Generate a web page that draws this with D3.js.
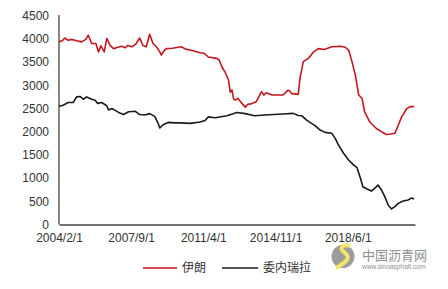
<!DOCTYPE html>
<html>
<head>
    <meta charset="utf-8">
    <title>伊朗 委内瑞拉</title>
    <style>
        body {
            margin: 0;
            background: #fff;
            font-family: "Liberation Sans", Arial, "Noto Sans CJK SC", sans-serif;
        }

        .axis text {
            fill: #333;
            font-size: 12px;
        }

        .axis .domain {
            stroke: #444;
            stroke-width: 1.3;
        }

        .line {
            fill: none;
            stroke-width: 1.6;
            stroke-linejoin: round;
        }

        .legend text {
            font-family: "Noto Sans CJK SC", sans-serif;
            font-size: 12px;
            fill: #333;
        }
    </style>
    <script src="https://d3js.org/d3.v7.min.js"></script>
</head>

<body>

<script type="text/javascript">
    var seriesNames = ["伊朗", "委内瑞拉"];
    var seriesColors = ["#c5161e", "#1a1a1a"];

    var yTicks = [0, 500, 1000, 1500, 2000, 2500, 3000, 3500, 4000, 4500];
    var xTickDates = ["2004-02-01", "2007-09-01", "2011-04-01", "2014-11-01", "2018-06-01"];
    var xTickLabels = ["2004/2/1", "2007/9/1", "2011/4/1", "2014/11/1", "2018/6/1"];

    // 伊朗
    var iranDates = [
        "2004-02-01", "2004-04-01", "2004-05-16", "2004-07-16", "2004-09-16", "2004-12-16",
        "2005-03-16", "2005-06-01", "2005-07-16", "2005-09-16", "2005-12-01", "2006-01-16",
        "2006-03-01", "2006-05-01", "2006-06-16", "2006-08-16", "2006-10-16", "2007-01-01",
        "2007-03-16", "2007-05-16", "2007-07-01", "2007-09-16", "2007-12-01", "2008-02-01",
        "2008-04-01", "2008-06-01", "2008-08-01", "2008-10-01", "2008-12-01", "2009-02-01",
        "2009-03-01", "2009-04-16", "2009-06-01", "2009-09-16", "2010-03-01", "2010-05-16",
        "2010-08-01", "2010-11-16", "2011-02-01", "2011-04-16", "2011-07-01", "2011-12-01",
        "2012-01-16", "2012-03-01", "2012-05-01", "2012-07-01", "2012-08-01", "2012-09-01",
        "2012-10-01", "2012-11-01", "2012-12-16", "2013-03-01", "2013-05-01", "2013-06-16",
        "2013-08-16", "2013-11-16", "2014-02-16", "2014-04-01", "2014-05-16", "2014-06-16",
        "2014-09-01", "2014-12-16", "2015-03-16", "2015-06-16", "2015-07-16", "2015-08-16",
        "2015-11-01", "2015-12-16", "2016-01-16", "2016-03-16", "2016-06-16", "2016-09-16",
        "2016-12-16", "2017-04-01", "2017-08-16", "2018-01-16", "2018-04-16", "2018-06-16",
        "2018-08-16", "2018-10-16", "2018-12-16", "2019-02-16", "2019-04-01", "2019-07-01",
        "2019-11-01", "2020-02-01", "2020-05-01", "2020-07-16", "2020-10-01", "2020-12-01",
        "2021-02-01", "2021-05-01", "2021-07-01", "2021-09-16"
    ];
    var iranValues = [
        3936, 3960, 4020, 3970, 3990, 3960,
        3936, 3990, 4080, 3900, 3900, 3720,
        3850, 3720, 4010, 3860, 3790, 3820,
        3840, 3810, 3860, 3830, 3900, 4020,
        3860, 3830, 4100, 3900, 3830, 3720,
        3650, 3740, 3790, 3800, 3830, 3780,
        3760, 3730, 3700, 3690, 3610, 3580,
        3540, 3400, 3280, 3110, 2850, 2900,
        2700, 2680, 2720, 2610, 2530, 2590,
        2600, 2650, 2860, 2790, 2840, 2825,
        2790, 2790, 2790, 2895, 2880, 2820,
        2810, 2805, 3150, 3510, 3580, 3720,
        3790, 3770, 3830, 3840, 3820, 3760,
        3510, 3220, 2790, 2715, 2430, 2215,
        2070, 2000, 1940, 1950, 1965, 2140,
        2320, 2490, 2540, 2540
    ];

    // 委内瑞拉
    var venezuelaDates = [
        "2004-02-01", "2004-04-16", "2004-07-16", "2004-10-16", "2004-12-16", "2005-02-16",
        "2005-04-16", "2005-06-16", "2005-09-16", "2005-11-16", "2006-01-01", "2006-03-16",
        "2006-06-16", "2006-07-16", "2006-09-16", "2006-11-16", "2007-01-16", "2007-04-16",
        "2007-07-16", "2007-11-16", "2008-02-01", "2008-05-01", "2008-08-01", "2008-11-01",
        "2009-01-01", "2009-02-01", "2009-04-01", "2009-07-01", "2009-11-01", "2010-02-01",
        "2010-08-01", "2011-02-01", "2011-05-01", "2011-07-01", "2011-11-01", "2012-06-01",
        "2012-12-01", "2013-05-01", "2013-10-16", "2014-04-16", "2015-03-16", "2015-09-16",
        "2015-12-16", "2016-02-16", "2016-05-16", "2016-07-16", "2016-10-16", "2017-01-16",
        "2017-04-16", "2017-08-16", "2017-10-16", "2017-12-16", "2018-03-16", "2018-06-16",
        "2018-09-16", "2018-11-16", "2019-01-16", "2019-03-01", "2019-05-16", "2019-08-01",
        "2019-10-01", "2019-12-01", "2020-02-01", "2020-04-01", "2020-06-01", "2020-08-01",
        "2020-10-01", "2020-12-01", "2021-03-01", "2021-06-01", "2021-08-01", "2021-09-16"
    ];
    var venezuelaValues = [
        2550, 2570, 2630, 2630, 2750, 2760,
        2700, 2750, 2700, 2680, 2610, 2630,
        2560, 2470, 2500, 2460, 2415, 2370,
        2430, 2440, 2370, 2360, 2390, 2330,
        2180, 2080, 2150, 2200, 2190, 2190,
        2180, 2210, 2240, 2320, 2300, 2345,
        2415, 2390, 2345, 2360, 2380, 2395,
        2350, 2345, 2250, 2200, 2130, 2035,
        1985, 1965, 1855, 1710, 1535, 1390,
        1280, 1225, 995, 815, 765, 720,
        780, 850, 745, 600, 420, 335,
        385, 455, 505, 530, 570, 550
    ];

    var width = 448, height = 289;
    var margins = {top: 15, left: 59, right: 33, bottom: 64.5};

    var parse = d3.timeParse("%Y-%m-%d");

    var series = [
        {name: seriesNames[0], color: seriesColors[0],
            points: iranDates.map(function (d, i) { return {date: parse(d), value: iranValues[i]}; })},
        {name: seriesNames[1], color: seriesColors[1],
            points: venezuelaDates.map(function (d, i) { return {date: parse(d), value: venezuelaValues[i]}; })}
    ];

    var x = d3.scaleTime()
            .domain([parse("2004-02-01"), parse("2021-10-01")])
            .range([margins.left, width - margins.right]);

    var y = d3.scaleLinear()
            .domain([0, 4500])
            .range([height - margins.bottom, margins.top + 0.7]);

    var svg = d3.select("body").append("svg")
            .attr("width", width)
            .attr("height", height);

    // y axis
    svg.append("g")
            .attr("class", "axis")
            .attr("transform", "translate(" + margins.left + ",0)")
            .call(d3.axisLeft(y)
                    .tickValues(yTicks)
                    .tickFormat(d3.format("d"))
                    .tickSize(0)
                    .tickPadding(10))
            .call(function (g) {
                g.select(".domain").attr("d", "M0," + y(0) + "V" + margins.top);
            });

    // x axis
    svg.append("g")
            .attr("class", "axis")
            .attr("transform", "translate(0," + y(0) + ")")
            .call(d3.axisBottom(x)
                    .tickValues(xTickDates.map(parse))
                    .tickFormat(function (d, i) { return xTickLabels[i]; })
                    .tickSize(0)
                    .tickPadding(9));

    svg.selectAll(".axis text")
            .attr("font-family", "Liberation Sans, Arial, sans-serif");

    var line = d3.line()
            .x(function (d) { return x(d.date); })
            .y(function (d) { return y(d.value); });

    svg.selectAll("path.line")
            .data(series)
            .enter()
            .append("path")
            .attr("class", "line")
            .attr("stroke", function (d) { return d.color; })
            .attr("d", function (d) { return line(d.points); });

    // legend
    var legend = svg.append("g").attr("class", "legend");
    var legendX = [143, 222];
    var legendLen = [34, 36];

    series.forEach(function (s, i) {
        legend.append("line")
                .attr("x1", legendX[i])
                .attr("x2", legendX[i] + legendLen[i])
                .attr("y1", 268)
                .attr("y2", 268)
                .attr("stroke", s.color)
                .attr("stroke-width", 1.6);

        legend.append("text")
                .attr("x", legendX[i] + legendLen[i] + 5)
                .attr("y", 268)
                .attr("dy", "0.36em")
                .text(s.name);
    });

    // watermark
    var mark = svg.append("g").attr("class", "watermark");
    mark.append("circle")
            .attr("cx", 343)
            .attr("cy", 256.5)
            .attr("r", 11.5)
            .attr("fill", "#9c9c9c");
    mark.append("path")
            .attr("d", "M336,268 C346,262 352,258 344,252 C338,248 344,244 350,246")
            .attr("fill", "none")
            .attr("stroke", "#f2e66a")
            .attr("stroke-width", 4);
    mark.append("text")
            .attr("x", 362)
            .attr("y", 260)
            .attr("font-family", "Noto Sans CJK SC, sans-serif")
            .attr("font-size", 13)
            .attr("fill", "#8f8f8f")
            .text("中国沥青网");
    mark.append("text")
            .attr("x", 362)
            .attr("y", 268.5)
            .attr("font-family", "Liberation Sans, Arial, sans-serif")
            .attr("font-size", 6.6)
            .attr("fill", "#8f8f8f")
            .text("www.sinoasphalt.com");
</script>

</body>

</html>
